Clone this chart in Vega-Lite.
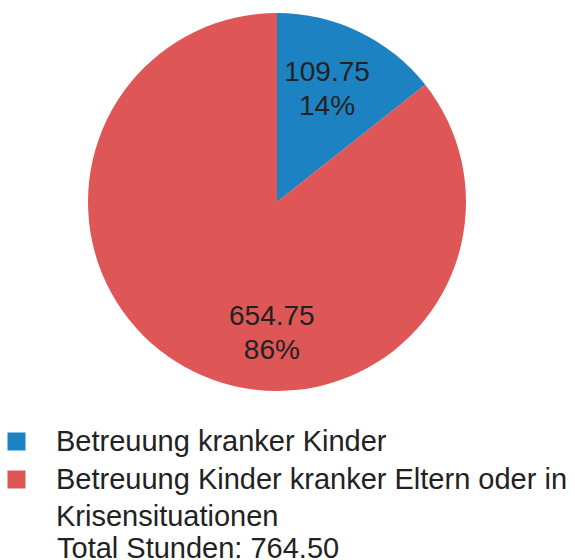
{
  "$schema": "https://vega.github.io/schema/vega-lite/v6.json",
  "width": 554,
  "height": 404,
  "padding": {"left": 0, "top": 0, "right": 21, "bottom": 156},
  "autosize": {"type": "none"},
  "background": "white",
  "config": {
    "view": {"stroke": null},
    "font": "Liberation Sans",
    "style": {"guide-label": {"lineHeight": 37}}
  },
  "title": {
    "text": "Total Stunden: 764.50",
    "orient": "bottom",
    "anchor": "start",
    "fontSize": 29,
    "fontWeight": "normal",
    "font": "Liberation Sans",
    "color": "#222222",
    "dx": 57,
    "offset": 3
  },
  "data": {
    "values": [
      {"kategorie": "Betreuung kranker Kinder", "stunden": 109.75, "beschriftung": "109.75\n14%"},
      {"kategorie": "Betreuung Kinder kranker Eltern oder in Krisensituationen", "stunden": 654.75, "beschriftung": "654.75\n86%"}
    ]
  },
  "encoding": {
    "theta": {"field": "stunden", "type": "quantitative", "stack": true},
    "order": {"field": "stunden", "type": "quantitative", "sort": "ascending"}
  },
  "layer": [
    {
      "mark": {"type": "arc", "outerRadius": 189, "strokeWidth": 0},
      "encoding": {
        "color": {
          "field": "kategorie",
          "type": "nominal",
          "scale": {
            "domain": ["Betreuung kranker Kinder", "Betreuung Kinder kranker Eltern oder in Krisensituationen"],
            "range": ["#1d82c2", "#df5657"]
          },
          "legend": {
            "title": null,
            "orient": "none",
            "legendX": 2,
            "legendY": 436,
            "direction": "vertical",
            "symbolType": "M-1,-2H1V0H-1Z",
            "symbolSize": 324,
            "symbolStrokeWidth": 0,
            "symbolOpacity": 1,
            "labelFont": "Liberation Sans",
            "labelFontSize": 29,
            "labelColor": "#222222",
            "labelLimit": 0,
            "labelOffset": 25,
            "rowPadding": 8,
            "labelBaseline": "alphabetic",
            "labelExpr": "datum.label == 'Betreuung Kinder kranker Eltern oder in Krisensituationen' ? ['Betreuung Kinder kranker Eltern oder in', 'Krisensituationen'] : datum.label"
          }
        }
      }
    },
    {
      "transform": [{"filter": "datum.stunden < 200"}],
      "mark": {"type": "text", "radius": 138, "thetaOffset": -0.08, "fontSize": 28, "font": "Liberation Sans", "color": "#222222", "lineHeight": 34, "baseline": "middle", "lineBreak": "\n"},
      "encoding": {"text": {"field": "beschriftung", "type": "nominal"}}
    },
    {
      "transform": [{"filter": "datum.stunden > 200"}],
      "mark": {"type": "text", "radius": 115, "thetaOffset": 0.496, "fontSize": 28, "font": "Liberation Sans", "color": "#222222", "lineHeight": 34, "baseline": "middle", "lineBreak": "\n"},
      "encoding": {"text": {"field": "beschriftung", "type": "nominal"}}
    }
  ]
}
